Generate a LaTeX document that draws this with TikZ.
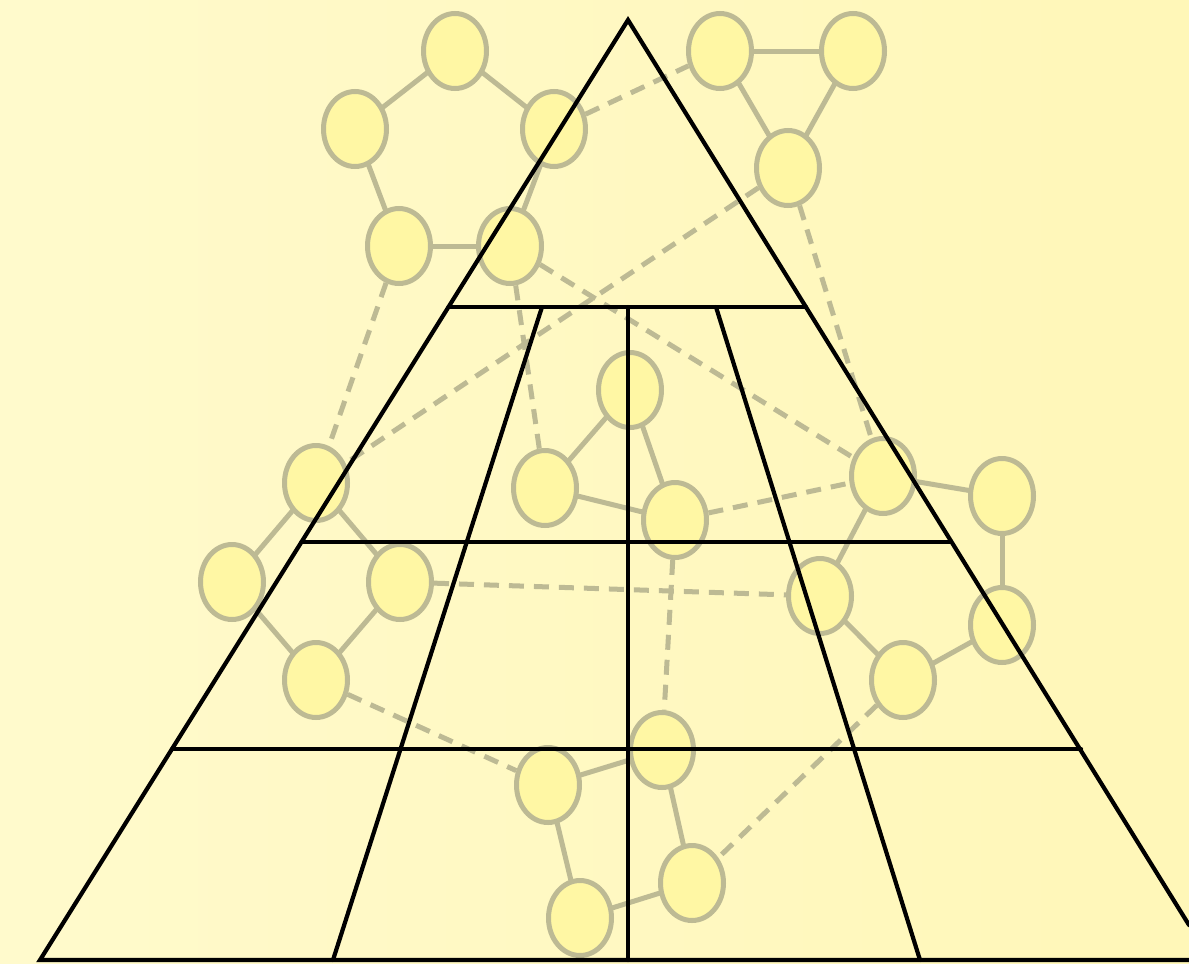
\documentclass[tikz,border=0pt]{standalone}
\usetikzlibrary{shapes.geometric}
\definecolor{bgleft}{HTML}{FFFACC}
\definecolor{bgright}{HTML}{FFF7B8}
\definecolor{vfill}{HTML}{FFF7A4}
\definecolor{vline}{HTML}{BDBA94}
\pgfdeclarelayer{bglayer}
\pgfdeclarelayer{edgelayer}
\pgfsetlayers{bglayer,edgelayer,main}
\tikzset{
  vtx/.style={ellipse, draw=vline, fill=vfill, line width=5pt, minimum width=63pt, minimum height=75pt, inner sep=0pt},
  solidedge/.style={draw=vline, line width=5pt},
  dashedge/.style={draw=vline, line width=5pt, dash pattern=on 15pt off 10pt},
  frame/.style={draw=black, line width=4.2pt, line cap=round, line join=miter}
}
\begin{document}
\begin{tikzpicture}[x=1pt,y=-1pt]
\useasboundingbox (0,0) rectangle (1189,964);
\begin{pgfonlayer}{bglayer}
\shade[left color=bgleft, right color=bgright] (0,0) rectangle (1189,964);
\end{pgfonlayer}
% vertices
\node[vtx] (n1) at (455,51) {};
\node[vtx] (n2) at (355,129) {};
\node[vtx] (n3) at (554,129) {};
\node[vtx] (n4) at (399,246) {};
\node[vtx] (n5) at (510,246) {};
\node[vtx] (n6) at (720,51) {};
\node[vtx] (n7) at (853,51) {};
\node[vtx] (n8) at (788,168) {};
\node[vtx] (n9) at (630,390) {};
\node[vtx] (n10) at (545,488) {};
\node[vtx] (n11) at (675,520) {};
\node[vtx] (n12) at (883,476) {};
\node[vtx] (n13) at (1002,496) {};
\node[vtx] (n14) at (316,483) {};
\node[vtx] (n15) at (232,582) {};
\node[vtx] (n16) at (400,582) {};
\node[vtx] (n17) at (316,680) {};
\node[vtx] (n18) at (820,596) {};
\node[vtx] (n19) at (1002,625) {};
\node[vtx] (n20) at (903,680) {};
\node[vtx] (n21) at (662,750) {};
\node[vtx] (n22) at (548,785) {};
\node[vtx] (n23) at (692,883) {};
\node[vtx] (n24) at (580,918) {};
\begin{pgfonlayer}{edgelayer}
% solid edges
\draw[solidedge] (n1.center) -- (n2.center);
\draw[solidedge] (n1.center) -- (n3.center);
\draw[solidedge] (n2.center) -- (n4.center);
\draw[solidedge] (n4.center) -- (n5.center);
\draw[solidedge] (n3.center) -- (n5.center);
\draw[solidedge] (n6.center) -- (n7.center);
\draw[solidedge] (n6.center) -- (n8.center);
\draw[solidedge] (n7.center) -- (n8.center);
\draw[solidedge] (n9.center) -- (n10.center);
\draw[solidedge] (n9.center) -- (n11.center);
\draw[solidedge] (n10.center) -- (n11.center);
\draw[solidedge] (n12.center) -- (n13.center);
\draw[solidedge] (n13.center) -- (n19.center);
\draw[solidedge] (n19.center) -- (n20.center);
\draw[solidedge] (n20.center) -- (n18.center);
\draw[solidedge] (n18.center) -- (n12.center);
\draw[solidedge] (n14.center) -- (n15.center);
\draw[solidedge] (n15.center) -- (n17.center);
\draw[solidedge] (n17.center) -- (n16.center);
\draw[solidedge] (n16.center) -- (n14.center);
\draw[solidedge] (n21.center) -- (n22.center);
\draw[solidedge] (n22.center) -- (n24.center);
\draw[solidedge] (n24.center) -- (n23.center);
\draw[solidedge] (n23.center) -- (n21.center);
% dashed edges
\draw[dashedge] (n3) -- (n6);
\draw[dashedge] (n5) -- (n12);
\draw[dashedge] (n8) -- (n14);
\draw[dashedge] (n8) -- (n12);
\draw[dashedge] (n4) -- (n14);
\draw[dashedge] (n5) -- (n10);
\draw[dashedge] (n11) -- (n12);
\draw[dashedge] (n16) -- (n18);
\draw[dashedge] (n11) -- (n21);
\draw[dashedge] (n17) -- (n22);
\draw[dashedge] (n20) -- (n23);
\end{pgfonlayer}
% pyramid frame
\coordinate (apex) at (628,20);
\coordinate (bl) at (40,960);
\coordinate (brc) at (1189,925);
\coordinate (bre) at (1189,960);
\draw[frame] (brc) -- (apex) -- (bl) -- (bre);
\draw[frame] (448.5,307) -- (806,307);
\draw[frame] (301.5,542) -- (951,542);
\draw[frame] (172,749) -- (1081,749);
\draw[frame] (628,307) -- (628,960);
\draw[frame] (542,307) -- (333,960);
\draw[frame] (716,307) -- (920,960);
\end{tikzpicture}
\end{document}
